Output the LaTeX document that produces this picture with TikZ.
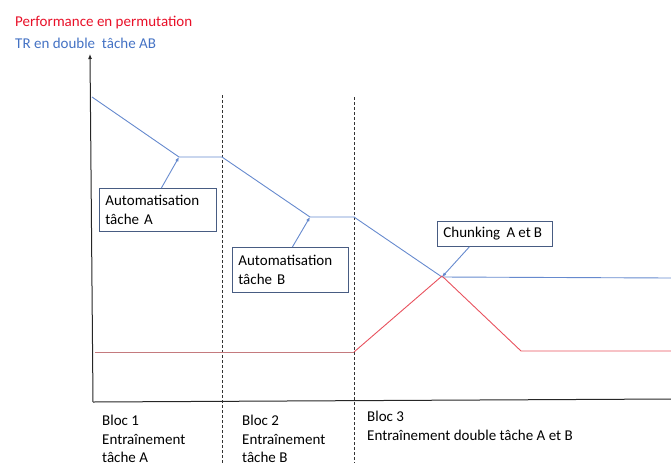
\documentclass[tikz,border=0pt]{standalone}
\usepackage{fontspec}
\setmainfont{Carlito}
\usetikzlibrary{arrows.meta}
\definecolor{lblue}{RGB}{102,138,206}
\definecolor{tblue}{RGB}{68,114,196}
\definecolor{lred}{RGB}{232,82,94}
\definecolor{mred}{RGB}{196,122,126}
\definecolor{tred}{RGB}{232,16,40}
\definecolor{boxc}{RGB}{72,92,130}
\begin{document}
\begin{tikzpicture}[x=1pt,y=-1pt,
  every node/.style={font=\fontsize{15}{18.3}\selectfont},
  txt/.style={inner sep=0pt,anchor=base west,align=left},
  lbox/.style={draw=boxc,line width=0.8pt,inner xsep=5.5pt,inner ysep=0pt,align=left,anchor=north west},
  bline/.style={draw=lblue,line width=0.9pt},
  rline/.style={draw=lred,line width=0.9pt},
  axis/.style={draw=black!85,line width=1pt},
  divider/.style={draw=black!80,line width=0.6pt,dash pattern=on 3pt off 2pt},
  pointer/.style={draw=lblue,line width=0.9pt,-{Latex[length=4.5pt,width=3.5pt]}}]
\useasboundingbox (0,0) rectangle (671,466);
% axes
\coordinate (O) at (93,402);
\coordinate (Ytop) at (90,54);
\coordinate (Xend) at (671,399);
\draw[axis,-{Latex[length=5pt,width=4pt]}] (O) -- (Ytop);
\draw[axis] (O) -- (Xend);
% dividers
\coordinate (d1t) at (222,95);
\coordinate (d1b) at (222,463);
\coordinate (d2t) at (354,97);
\coordinate (d2b) at (354,463);
\draw[divider] (d1t) -- (d1b);
\draw[divider] (d2t) -- (d2b);
% blue curve
\coordinate (b0) at (92,97);
\coordinate (b1) at (179,157);
\coordinate (b2) at (222,157);
\coordinate (b3) at (310,217);
\coordinate (b4) at (354,217);
\coordinate (b5) at (442,277);
\coordinate (b6) at (671,278);
\draw[bline] (b0) -- (b1) -- (b2) -- (b3) -- (b4) -- (b5) -- (b6);
% red curve
\coordinate (r0) at (95,352);
\coordinate (r1) at (354,352);
\coordinate (r2) at (442,276);
\coordinate (r3) at (521,351);
\coordinate (r4) at (671,351);
\draw[draw=mred,line width=0.9pt] (r0) -- (r1);
\draw[rline] (r1) -- (r2) -- (r3) -- (r4);
% titles
\node[txt,text=tred] (t1) at (15,26) {Performance en permutation};
\node[txt,text=tblue] (t2) at (15,48) {TR en double~ tâche AB};
% boxes
\node[lbox,minimum width=117pt,minimum height=43pt,text width=105pt] (boxA) at (99,188) {Automatisation\\tâche A};
\node[lbox,minimum width=116pt,minimum height=45pt,text width=104pt] (boxB) at (232,247) {Automatisation\\tâche B};
\node[lbox,minimum width=115pt,minimum height=25pt,text width=103pt] (boxC) at (437,221) {\mbox{Chunking\hspace{6.5pt}A\hspace{3pt}et\hspace{3pt}B}};
\draw[pointer] ([xshift=3.5pt]boxA.north) -- (b1);
\draw[pointer] ([xshift=2pt]boxB.north) -- (b3);
\draw[pointer] ([xshift=-25.5pt]boxC.south) -- (b5);
% bloc labels (base anchor = baseline of last line)
\node[txt] (bl1) at (102,462.5) {Bloc 1\\Entraînement\\tâche A};
\node[txt] (bl2) at (242,462.5) {Bloc 2\\Entraînement\\tâche B};
\node[txt] (bl3) at (367,440) {Bloc 3\\Entraînement double tâche A et B};
\end{tikzpicture}
\end{document}
